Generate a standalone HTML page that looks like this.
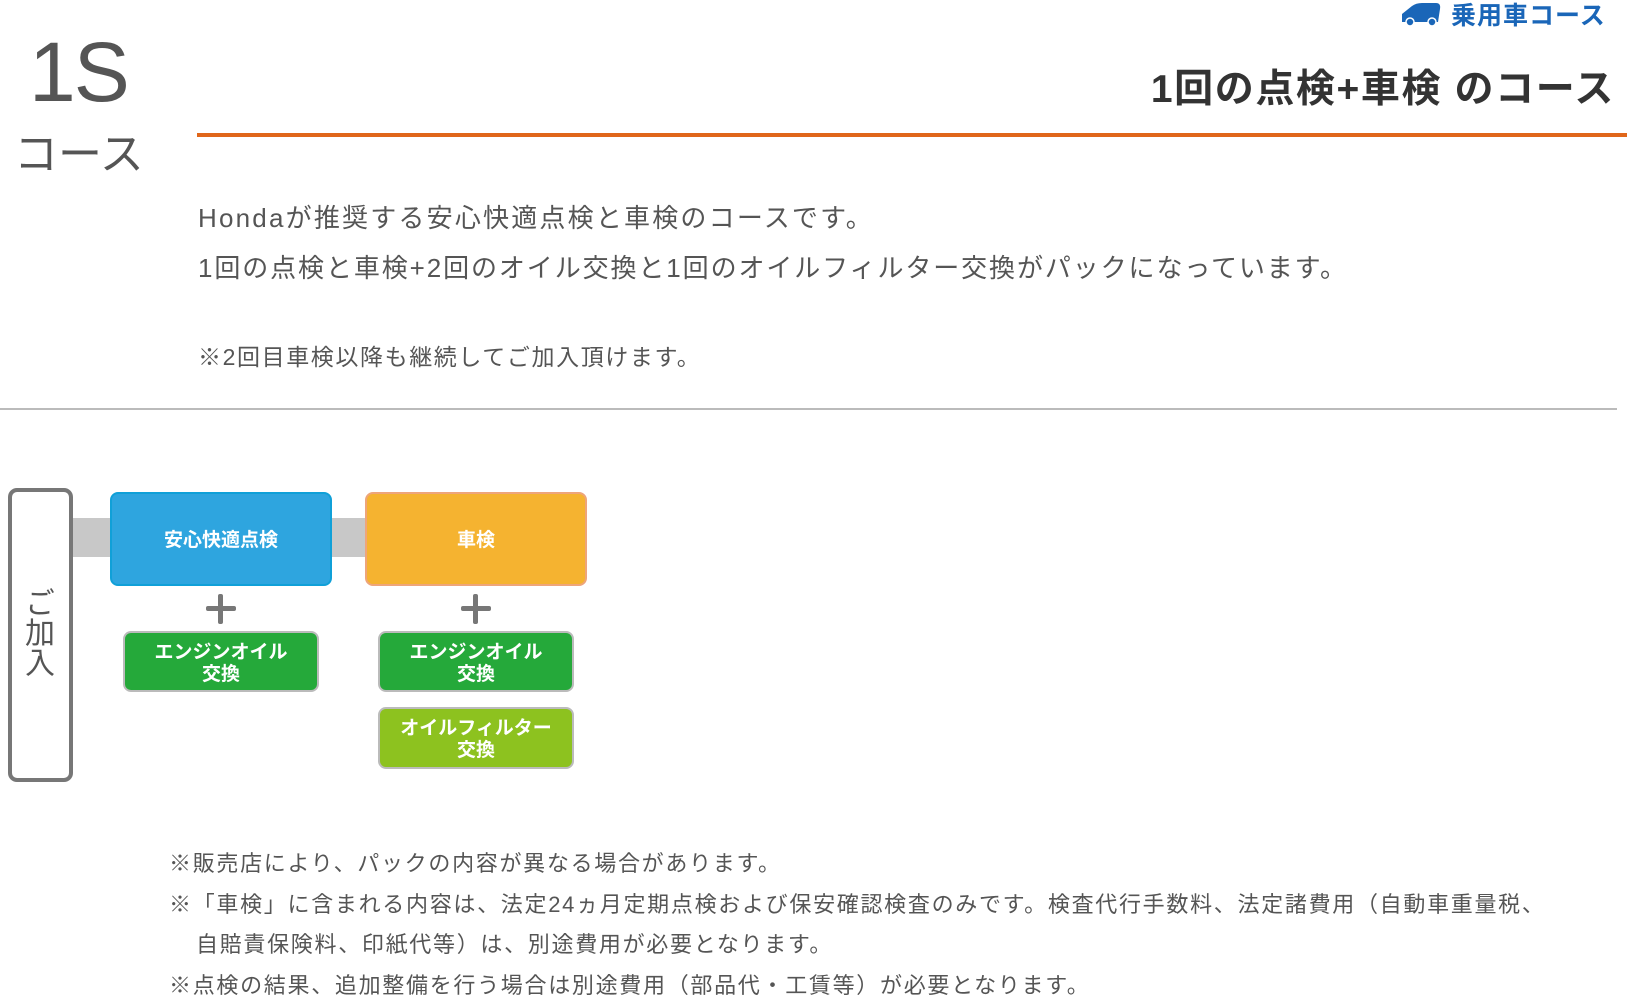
<!DOCTYPE html>
<html><head><meta charset="utf-8"><style>
body{margin:0;width:1627px;height:997px;background:#fff;position:relative;overflow:hidden;font-family:"Liberation Sans","Noto Sans CJK JP",sans-serif;color:#555}
.a{position:absolute;white-space:nowrap}
.box{position:absolute;border-radius:8px;box-sizing:border-box;color:#fff;font-weight:bold;display:flex;align-items:center;justify-content:center;text-align:center;line-height:1.15;padding-top:4px}
.plus{position:absolute;width:30px;height:30px}
.plus:before{content:"";position:absolute;left:0;top:12px;width:30px;height:5px;background:#777;border-radius:2px}
.plus:after{content:"";position:absolute;left:12px;top:0;width:5px;height:30px;background:#777;border-radius:2px}
.fn{font-size:22px;letter-spacing:1.7px}
</style></head><body>
<div class="a" style="left:29px;top:24px;font-size:84px;color:#555;letter-spacing:-2px">1S</div>
<div class="a" style="left:14px;top:118px;font-size:44px;color:#555">コース</div>
<svg class="a" style="left:1400px;top:2px" width="42" height="24" viewBox="0 0 42 24"><path d="M2 12 L12 4 Q16 1 22 1 L36 1 Q41 1 40 7 L38 20 L2 20 Z" fill="#1a66b8"/><circle cx="10" cy="20" r="4" fill="#1a66b8" stroke="#fff" stroke-width="1.5"/><circle cx="32" cy="20" r="4" fill="#1a66b8" stroke="#fff" stroke-width="1.5"/></svg>
<div class="a" style="left:1451px;top:-4px;font-size:25px;color:#1a66b8;font-weight:bold;letter-spacing:1px">乗用車コース</div>
<div class="a" style="right:12px;top:58px;font-size:39px;font-weight:bold;color:#333;letter-spacing:1.6px">1回の点検+車検 のコース</div>
<div class="a" style="left:197px;top:133px;width:1430px;height:4px;background:#e0661a"></div>
<div class="a" style="left:198px;top:198px;font-size:26px;letter-spacing:2.2px">Hondaが推奨する安心快適点検と車検のコースです。</div>
<div class="a" style="left:198px;top:248px;font-size:26px;letter-spacing:1.9px">1回の点検と車検+2回のオイル交換と1回のオイルフィルター交換がパックになっています。</div>
<div class="a" style="left:198px;top:338px;font-size:23px;letter-spacing:1.6px">※2回目車検以降も継続してご加入頂けます。</div>
<div class="a" style="left:0;top:408px;width:1617px;height:2px;background:#bbb"></div>
<div class="a" style="left:70px;top:518px;width:300px;height:39px;background:#c8c8c8"></div>
<div class="a" style="left:8px;top:488px;width:65px;height:294px;border:4px solid #777;border-radius:9px;box-sizing:border-box;background:#fff"></div>
<div class="a" style="left:24px;top:587px;width:34px;font-size:30px;color:#555;writing-mode:vertical-rl;white-space:normal;text-align:center">ご加入</div>
<div class="box" style="left:110px;top:492px;width:222px;height:94px;background:#2ea5df;border:2px solid #10a0d8;font-size:19px">安心快適点検</div>
<div class="box" style="left:365px;top:492px;width:222px;height:94px;background:#f5b330;border:2px solid #eea57a;font-size:19px">車検</div>
<div class="plus" style="left:206px;top:594px"></div>
<div class="plus" style="left:461px;top:594px"></div>
<div class="box" style="left:123px;top:631px;width:196px;height:61px;background:#25a93a;border:2px solid #bbb;font-size:19px">エンジンオイル<br>交換</div>
<div class="box" style="left:378px;top:631px;width:196px;height:61px;background:#25a93a;border:2px solid #bbb;font-size:19px">エンジンオイル<br>交換</div>
<div class="box" style="left:378px;top:707px;width:196px;height:62px;background:#8dc21f;border:2px solid #bbb;font-size:19px">オイルフィルター<br>交換</div>
<div class="a fn" style="left:169px;top:846px">※販売店により、パックの内容が異なる場合があります。</div>
<div class="a fn" style="left:169px;top:887px">※「車検」に含まれる内容は、法定24ヵ月定期点検および保安確認検査のみです。検査代行手数料、法定諸費用（自動車重量税、</div>
<div class="a fn" style="left:196px;top:927px">自賠責保険料、印紙代等）は、別途費用が必要となります。</div>
<div class="a fn" style="left:169px;top:968px">※点検の結果、追加整備を行う場合は別途費用（部品代・工賃等）が必要となります。</div>
</body></html>
